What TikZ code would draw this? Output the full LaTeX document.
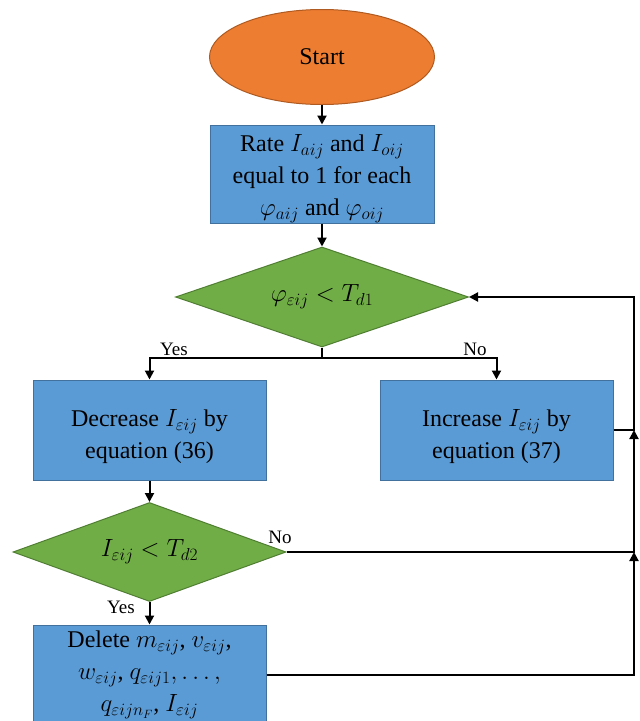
\documentclass[tikz,border=0pt]{standalone}
\usepackage{fontspec}
\setmainfont{Liberation Serif}
\usetikzlibrary{shapes.geometric,arrows.meta,calc}

\definecolor{startfill}{HTML}{ED7D31}
\definecolor{startline}{HTML}{AE5A21}
\definecolor{boxfill}{HTML}{5B9BD5}
\definecolor{boxline}{HTML}{41719C}
\definecolor{decfill}{HTML}{70AD47}
\definecolor{decline}{HTML}{507E32}

% taller first line, so the text block sits a little lower in its box
\newcommand\firstlinestrut[1]{\rule{0pt}{#1}}

\tikzset{
  txt/.style={font=\fontsize{24}{32}\selectfont, align=center, text=black},
  startnode/.style={txt, ellipse, draw=startline, fill=startfill, line width=1pt,
    minimum width=225pt, minimum height=95pt, inner sep=0pt},
  procbox/.style={txt, rectangle, draw=boxline, fill=boxfill, line width=1pt,
    minimum width=233pt, minimum height=100pt, inner sep=0pt},
  decision/.style={txt, diamond, draw=decline, fill=decfill, line width=1pt,
    aspect=2.9, inner sep=0pt},
  flow/.style={line width=2pt, draw=black, -{Triangle[length=9pt,width=9pt]}},
  plain/.style={line width=2pt, draw=black},
  branch/.style={font=\fontsize{19}{22}\selectfont, text=black, inner sep=0pt}
}

\begin{document}
\begin{tikzpicture}[x=1pt,y=-1pt]
  \useasboundingbox (0,0) rectangle (640,721);
  \clip (0,0) rectangle (640,721);

  % nodes
  \node[startnode] (start) at (322,57) {Start};
  \node[procbox, minimum width=224pt, minimum height=98pt] (rate) at (322,174)
    {\firstlinestrut{26pt}Rate $I_{aij}$ and $I_{oij}$\\ equal to 1 for each\\ $\varphi_{aij}$ and $\varphi_{oij}$};
  \node[decision, minimum width=293pt, minimum height=100pt] (d1) at (322,297)
    {$\varphi_{\varepsilon ij} < T_{d1}$};
  \node[procbox] (dec) at (149.5,430) {\firstlinestrut{30pt}Decrease $I_{\varepsilon ij}$ by\\ equation (36)};
  \node[procbox] (inc) at (496.5,430) {\firstlinestrut{30pt}Increase $I_{\varepsilon ij}$ by\\ equation (37)};
  \node[decision, minimum width=273pt, minimum height=99pt] (d2) at (149.5,552)
    {$I_{\varepsilon ij} < T_{d2}$};
  \node[procbox] (del) at (149.5,675)
    {Delete $m_{\varepsilon ij}$, $v_{\varepsilon ij}$,\\ $w_{\varepsilon ij}$, $q_{\varepsilon ij1},\ldots,$\\ $q_{\varepsilon ijn_F}$, $I_{\varepsilon ij}$};

  % helper points for the branch and the return column
  \coordinate (split) at ($(d1.south)+(0,10)$);
  \coordinate (rc) at (634,297);

  % branch labels
  \node[branch] (yes1) at (174,349) {Yes};
  \node[branch] (no1) at (475,349) {No};
  \node[branch] (no2) at (280,537) {No};
  \node[branch] (yes2) at (121,607) {Yes};

  % connectors
  \draw[flow] (start) -- (rate);
  \draw[flow] (rate) -- (d1);
  \draw[plain] (d1.south) -- (split);
  \draw[flow] (split) -| (dec.north);
  \draw[flow] (split) -| (inc.north);
  \draw[flow] (dec) -- (d2);
  \draw[flow] (d2) -- (del);
  \draw[flow] (inc.east) -| (rc) -- (d1.east);
  \draw[flow] (d2.east) -| (inc.east -| rc);
  \draw[flow] (del.east) -| (d2.east -| rc);
\end{tikzpicture}
\end{document}
